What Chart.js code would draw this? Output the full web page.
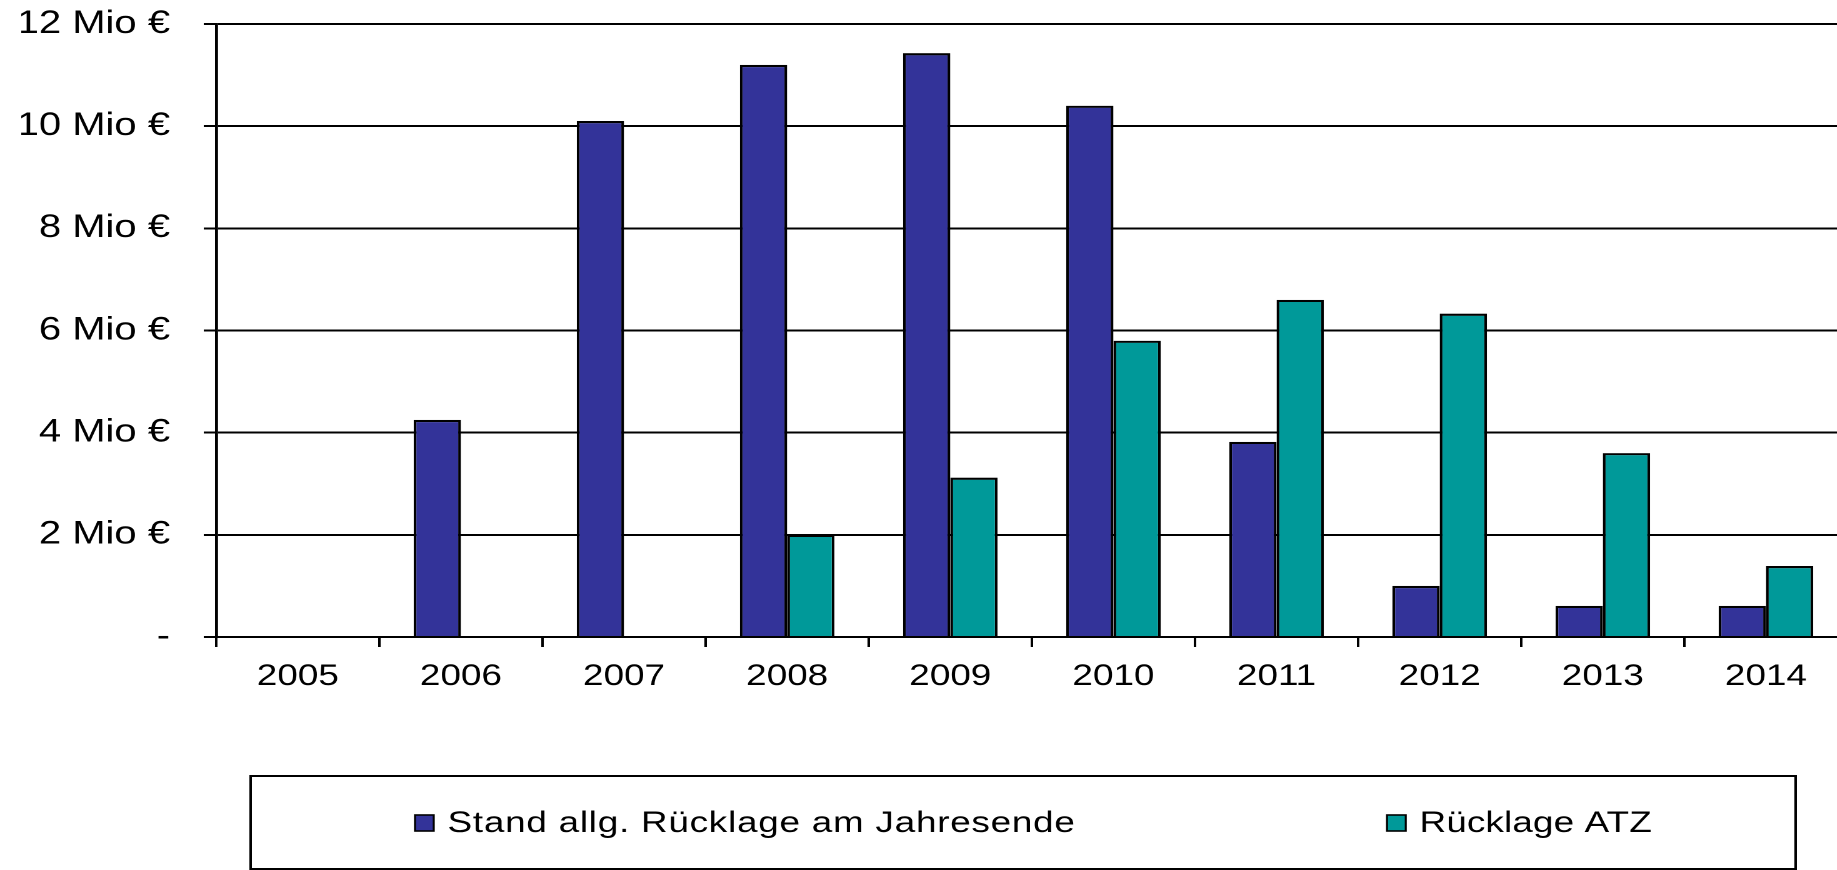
<!DOCTYPE html>
<html>
<head>
<meta charset="utf-8">
<script src="https://cdn.jsdelivr.net/npm/chart.js@4/dist/chart.umd.min.js"></script>
<style>
  html, body { margin: 0; padding: 0; background: #fff; overflow: hidden; }
  /* the original chart is stretched sideways, so the whole canvas is too */
  #wrap { width: 1480px; height: 870px; transform: scaleX(1.25); transform-origin: 0 0; }
</style>
</head>
<body>
<div id="wrap"><canvas id="myBarChart" width="1480" height="870"></canvas></div>
<script>
// bar chart - Ruecklagen

let years = ["2005", "2006", "2007", "2008", "2009", "2010", "2011", "2012", "2013", "2014"];
let standAllg = [0, 4.25, 10.1, 11.2, 11.43, 10.4, 3.82, 1.0, 0.61, 0.61];   // Mio €
let ruecklageAtz = [0, 0, 0, 2.0, 3.12, 5.8, 6.6, 6.33, 3.6, 1.39];        // Mio €
let seriesNames = ["Stand allg. Rücklage am Jahresende", "Rücklage ATZ"];
let yTicks = [0, 2, 4, 6, 8, 10, 12];

let fontName = "'Liberation Sans', Arial, sans-serif";

// legend in a framed box under the chart
const boxLegend = {
    id: "boxLegend",
    afterDraw(chart) {
        const ctx = chart.ctx;
        ctx.save();
        ctx.strokeStyle = "#000";
        ctx.lineWidth = 2;
        ctx.strokeRect(200.5, 776, 1236, 93);
        let xs = [332, 1109.6];
        let spacing = ["0.6px", "0.1px"];
        let y = 823;
        ctx.font = "29.5px " + fontName;
        ctx.textBaseline = "middle";
        ctx.textAlign = "left";
        chart.data.datasets.forEach((ds, i) => {
            ctx.fillStyle = ds.backgroundColor;
            ctx.fillRect(xs[i], y - 8, 15, 16);
            ctx.lineWidth = 1.6;
            ctx.strokeRect(xs[i], y - 8, 15, 16);
            ctx.fillStyle = "#000";
            ctx.letterSpacing = spacing[i];
            ctx.fillText(ds.label, xs[i] + 26, y + 1);
        });
        ctx.restore();
    }
};

const chartData = {
    type: "bar",
    data: {
        labels: years,
        datasets: [{
            label: seriesNames[0],
            backgroundColor: "#333399",
            borderColor: "#000",
            borderWidth: 2.2,
            data: standAllg
        }, {
            label: seriesNames[1],
            backgroundColor: "#009999",
            borderColor: "#000",
            borderWidth: 2.2,
            data: ruecklageAtz
        }]
    },
    options: {
        responsive: false,
        animation: false,
        devicePixelRatio: 2,
        categoryPercentage: 0.58,
        barPercentage: 1,
        layout: {
            padding: { left: 17, right: 2, top: 24, bottom: 177 }
        },
        plugins: {
            legend: { display: false },
            tooltip: { enabled: false }
        },
        scales: {
            x: {
                afterFit: (s) => {
                    s.height = 56;
                    s.paddingLeft = 0;
                    s.paddingRight = 0;
                },
                grid: {
                    display: true,
                    drawOnChartArea: false,
                    drawTicks: true,
                    tickLength: 10,
                    color: "#000",
                    lineWidth: 2
                },
                border: { display: true, color: "#000", width: 2 },
                ticks: {
                    color: "#000",
                    font: { family: fontName, size: 29.5 },
                    padding: 12,
                    maxRotation: 0
                }
            },
            y: {
                min: 0,
                max: 12,
                afterBuildTicks: (scale) => {
                    scale.ticks = yTicks.map(v => ({ value: v }));
                },
                afterFit: (s) => {
                    s.width = 156;
                    s.paddingTop = 0;
                    s.paddingBottom = 0;
                },
                grid: {
                    color: "#000",
                    lineWidth: 2,
                    tickLength: 10
                },
                border: { display: true, color: "#000", width: 2.4 },
                ticks: {
                    color: "#000",
                    font: { family: fontName, size: 32 },
                    padding: 27,
                    callback: (v) => v === 0 ? "-" : v + " Mio €"
                }
            }
        }
    },
    plugins: [boxLegend]
};
let barChart = new Chart("myBarChart", chartData);
</script>
</body>
</html>
